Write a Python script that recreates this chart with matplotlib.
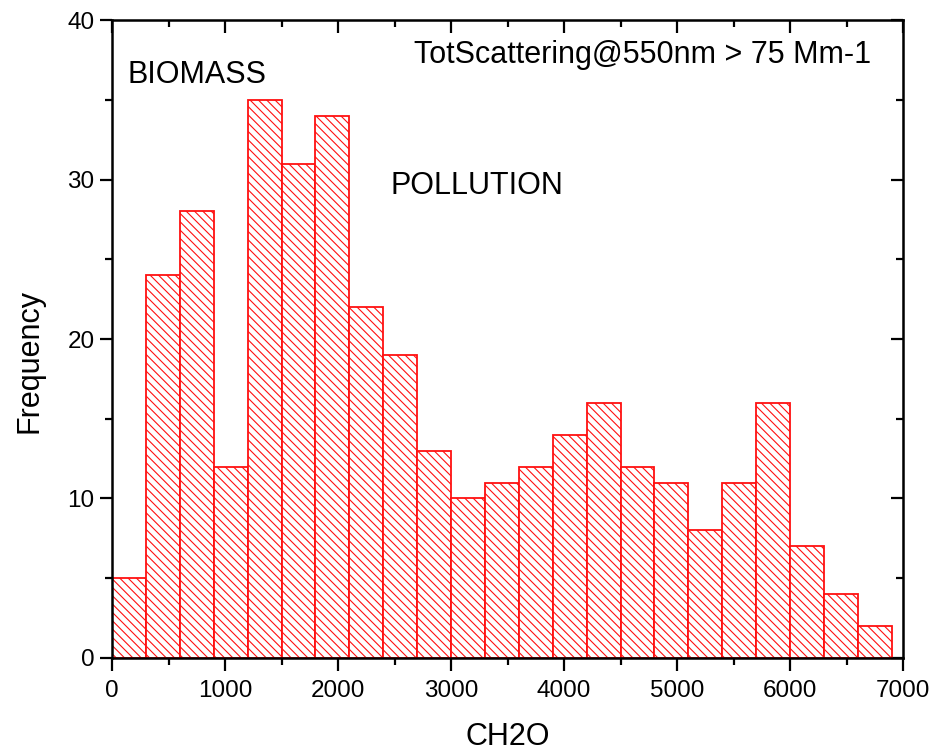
import numpy as np
import matplotlib
matplotlib.use('Agg')
import matplotlib.pyplot as plt
from matplotlib.ticker import MultipleLocator

plt.rcParams['font.family'] = ['Liberation Sans', 'DejaVu Sans']
plt.rcParams['hatch.linewidth'] = 0.8

# histogram of CH2O, bins of 300
bin_edges = np.arange(0, 7200, 300)
counts = [5, 24, 28, 12, 35, 31, 34, 22, 19, 13, 10, 11, 12, 14, 16, 12, 11, 8, 11, 16, 7, 4, 2]

fig = plt.figure(figsize=(9.39, 7.53), dpi=100)
ax = fig.add_axes([0.1193, 0.1262, 0.8424, 0.8472])

ax.bar(bin_edges[:-1], counts, width=300, align='edge', color='white',
       edgecolor='#ff1010', linewidth=1.3, hatch='\\\\\\\\')

ax.set_xlim(0, 7000)
ax.set_ylim(0, 40)
ax.xaxis.set_major_locator(MultipleLocator(1000))
ax.xaxis.set_minor_locator(MultipleLocator(500))
ax.yaxis.set_major_locator(MultipleLocator(10))
ax.yaxis.set_minor_locator(MultipleLocator(5))

for s in ax.spines.values():
    s.set_linewidth(1.8)
ax.tick_params(which='both', direction='out', width=1.6, labelsize=17.5)
ax.tick_params(which='major', length=9)
ax.tick_params(which='minor', length=5)
ax.tick_params(axis='x', which='major', pad=7)

# mirrored ticks on top/right pointing inward
secx = ax.secondary_xaxis('top')
secx.xaxis.set_major_locator(MultipleLocator(1000))
secx.xaxis.set_minor_locator(MultipleLocator(500))
secx.tick_params(which='both', direction='in', width=1.6, labeltop=False)
secx.tick_params(which='major', length=9)
secx.tick_params(which='minor', length=5)
secy = ax.secondary_yaxis('right')
secy.yaxis.set_major_locator(MultipleLocator(10))
secy.yaxis.set_minor_locator(MultipleLocator(5))
secy.tick_params(which='both', direction='in', width=1.6, labelright=False)
secy.tick_params(which='major', length=9)
secy.tick_params(which='minor', length=5)

ax.set_xlabel('CH2O', fontsize=22, labelpad=14)
ax.set_ylabel('Frequency', fontsize=22)
ax.yaxis.set_label_coords(-0.085, 0.4655)

ax.text(133, 36.55, 'BIOMASS', fontsize=22, va='center')
ax.text(2460, 29.6, 'POLLUTION', fontsize=22, va='center')
ax.text(2673, 37.8, 'TotScattering@550nm > 75 Mm-1', fontsize=22, va='center')

plt.savefig('out.png', dpi=100)
